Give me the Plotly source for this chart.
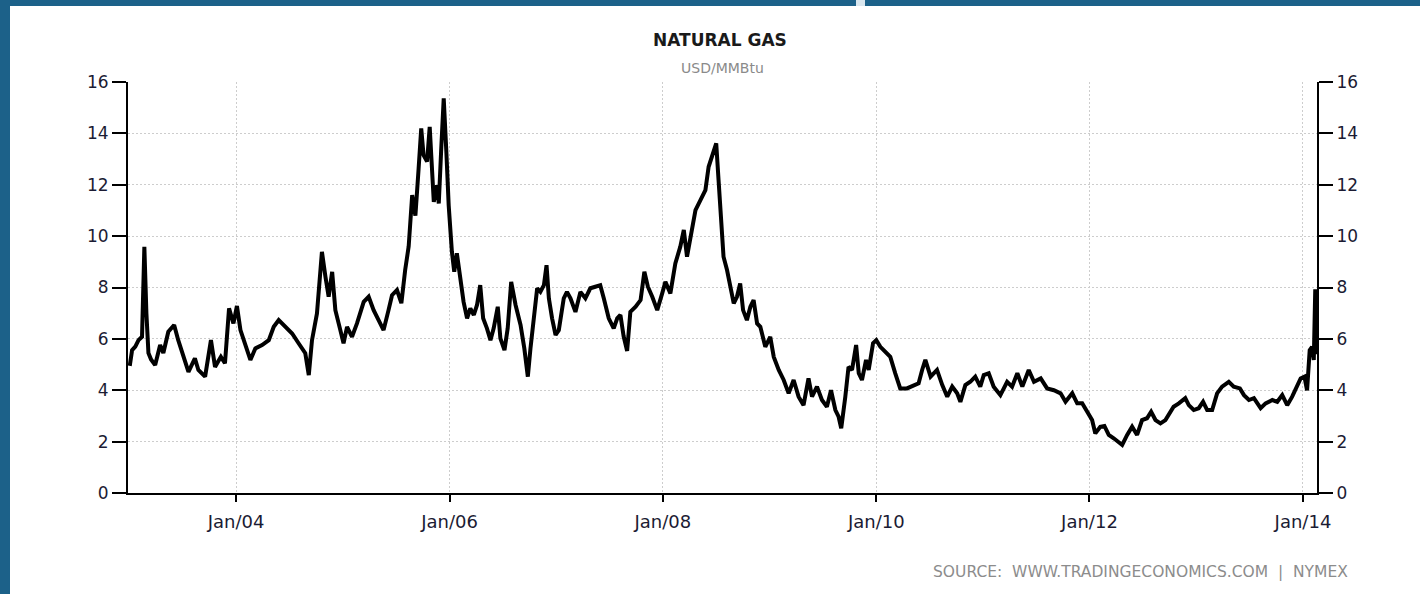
import plotly.graph_objects as go

# ---------------- data ----------------
dates = [
    "2003-01-02", "2003-01-10", "2003-01-21", "2003-02-01", "2003-02-13", "2003-02-21", "2003-02-28",
    "2003-03-07", "2003-03-16", "2003-03-30", "2003-04-16", "2003-04-27", "2003-05-14", "2003-06-03",
    "2003-06-17", "2003-07-04", "2003-07-22", "2003-08-13", "2003-08-25", "2003-09-17", "2003-10-07",
    "2003-10-21", "2003-11-10", "2003-11-24", "2003-12-08", "2003-12-23",
    "2004-01-04", "2004-01-16", "2004-02-02", "2004-02-19", "2004-03-07", "2004-03-30", "2004-04-22",
    "2004-05-09", "2004-05-26", "2004-06-18", "2004-07-11", "2004-08-02", "2004-08-25", "2004-09-06",
    "2004-09-17", "2004-10-04", "2004-10-21", "2004-11-02", "2004-11-13", "2004-11-25", "2004-12-06",
    "2004-12-23",
    "2005-01-03", "2005-01-15", "2005-02-01", "2005-02-18", "2005-03-13", "2005-03-30", "2005-04-16",
    "2005-05-03", "2005-05-20", "2005-06-06", "2005-06-18", "2005-07-05", "2005-07-20", "2005-08-02",
    "2005-08-14", "2005-08-26", "2005-09-06", "2005-09-17", "2005-09-26", "2005-10-04", "2005-10-16",
    "2005-10-25", "2005-11-02", "2005-11-08", "2005-11-19", "2005-11-25", "2005-12-03", "2005-12-12",
    "2005-12-21", "2005-12-29",
    "2006-01-09", "2006-01-17", "2006-01-26", "2006-02-07", "2006-02-18", "2006-03-02", "2006-03-13",
    "2006-03-25", "2006-04-05", "2006-04-16", "2006-04-26", "2006-05-09", "2006-05-21", "2006-06-01",
    "2006-06-15", "2006-06-24", "2006-07-08", "2006-07-19", "2006-07-31", "2006-08-15", "2006-09-01",
    "2006-09-14", "2006-09-26", "2006-10-05", "2006-10-16", "2006-10-28", "2006-11-08", "2006-11-20",
    "2006-11-29", "2006-12-07", "2006-12-18", "2006-12-30",
    "2007-01-10", "2007-01-27", "2007-02-07", "2007-02-19", "2007-03-08", "2007-03-25", "2007-04-11",
    "2007-04-28", "2007-05-15", "2007-06-01", "2007-06-13", "2007-06-30", "2007-07-17", "2007-07-29",
    "2007-08-09", "2007-08-20", "2007-09-01", "2007-09-12", "2007-09-30", "2007-10-17", "2007-10-30",
    "2007-11-11", "2007-11-26", "2007-12-13", "2007-12-30",
    "2008-01-10", "2008-01-27", "2008-02-13", "2008-03-01", "2008-03-13", "2008-03-24", "2008-04-04",
    "2008-04-22", "2008-05-09", "2008-05-26", "2008-06-06", "2008-06-21", "2008-07-02", "2008-07-10",
    "2008-07-18", "2008-07-27", "2008-08-08", "2008-08-19", "2008-08-31", "2008-09-11", "2008-09-22",
    "2008-10-02", "2008-10-15", "2008-10-27", "2008-11-07", "2008-11-19", "2008-11-30", "2008-12-17",
    "2009-01-03", "2009-01-15", "2009-02-01", "2009-02-18", "2009-03-07", "2009-03-24", "2009-04-10",
    "2009-04-27", "2009-05-14", "2009-05-26", "2009-06-12", "2009-06-29", "2009-07-16", "2009-07-30",
    "2009-08-14", "2009-08-25", "2009-09-03", "2009-09-17", "2009-09-28", "2009-10-10", "2009-10-24",
    "2009-11-02", "2009-11-13", "2009-11-27", "2009-12-06", "2009-12-21",
    "2010-01-01", "2010-01-15", "2010-02-01", "2010-02-18", "2010-03-07", "2010-03-24", "2010-04-16",
    "2010-05-09", "2010-05-26", "2010-06-07", "2010-06-18", "2010-07-06", "2010-07-28", "2010-08-15",
    "2010-09-01", "2010-09-18", "2010-10-05", "2010-10-16", "2010-11-02", "2010-11-19", "2010-12-06",
    "2010-12-23",
    "2011-01-04", "2011-01-21", "2011-02-07", "2011-03-02", "2011-03-25", "2011-04-11", "2011-04-29",
    "2011-05-16", "2011-06-07", "2011-06-25", "2011-07-18", "2011-08-09", "2011-09-01", "2011-09-24",
    "2011-10-11", "2011-11-03", "2011-11-20", "2011-12-07", "2011-12-24",
    "2012-01-10", "2012-01-21", "2012-02-07", "2012-02-21", "2012-03-07", "2012-03-24", "2012-04-10",
    "2012-04-22", "2012-05-09", "2012-05-26", "2012-06-12", "2012-06-29", "2012-07-16", "2012-07-30",
    "2012-08-14", "2012-08-31", "2012-09-17", "2012-10-02", "2012-10-15", "2012-11-02", "2012-11-24",
    "2012-12-06", "2012-12-23",
    "2013-01-09", "2013-01-24", "2013-02-07", "2013-02-24", "2013-03-13", "2013-03-30", "2013-04-22",
    "2013-05-09", "2013-05-30", "2013-06-13", "2013-06-30", "2013-07-17", "2013-08-09", "2013-08-26",
    "2013-09-18", "2013-10-05", "2013-10-22", "2013-11-08", "2013-11-25", "2013-12-12", "2013-12-24",
    "2014-01-06", "2014-01-15", "2014-01-24", "2014-02-01", "2014-02-07", "2014-02-12", "2014-02-17",
]

prices = [
    4.95, 5.56, 5.70, 5.95, 6.08, 9.58, 7.00,
    5.45, 5.20, 4.98, 5.76, 5.45, 6.28, 6.54,
    5.95, 5.37, 4.72, 5.24, 4.79, 4.53, 5.95,
    4.91, 5.30, 5.05, 7.19, 6.60,
    7.28, 6.34, 5.76, 5.18, 5.63, 5.76, 5.95,
    6.47, 6.73, 6.47, 6.21, 5.83, 5.44, 4.59,
    5.95, 6.99, 9.39, 8.42, 7.64, 8.61, 7.12,
    6.34,
    5.83, 6.47, 6.08, 6.60, 7.44, 7.64, 7.12,
    6.73, 6.34, 7.12, 7.70, 7.90, 7.39, 8.68,
    9.60, 11.60, 10.80, 12.63, 14.19, 13.15, 12.90,
    14.25, 12.63, 11.33, 11.98, 11.27, 13.28, 15.36,
    13.28, 11.20,
    9.39, 8.61, 9.33, 8.22, 7.44, 6.80, 7.19,
    6.93, 7.32, 8.09, 6.80, 6.41, 5.95, 6.41,
    7.25, 6.02, 5.56, 6.41, 8.22, 7.32, 6.54,
    5.63, 4.53, 5.63, 6.67, 7.97, 7.83, 8.09,
    8.87, 7.58, 6.80, 6.15,
    6.34, 7.58, 7.83, 7.58, 7.05, 7.83, 7.58,
    7.97, 8.03, 8.09, 7.58, 6.80, 6.41, 6.80,
    6.93, 6.10, 5.53, 7.05, 7.25, 7.51, 8.61,
    8.03, 7.64, 7.12, 7.77,
    8.22, 7.77, 8.94, 9.59, 10.24, 9.20, 9.85,
    11.01, 11.40, 11.79, 12.70, 13.22, 13.61, 12.18,
    10.50, 9.20, 8.68, 8.03, 7.38, 7.64, 8.16,
    7.12, 6.73, 7.25, 7.51, 6.60, 6.47, 5.69,
    6.08, 5.30, 4.79, 4.40, 3.88, 4.40, 3.75,
    3.42, 4.46, 3.75, 4.14, 3.62, 3.36, 4.00,
    3.23, 2.97, 2.52, 3.75, 4.91, 4.79, 5.76,
    4.66, 4.40, 5.18, 4.79, 5.83,
    5.95, 5.69, 5.50, 5.30, 4.66, 4.07, 4.07,
    4.20, 4.27, 4.79, 5.18, 4.53, 4.79, 4.20,
    3.75, 4.14, 3.88, 3.55, 4.20, 4.33, 4.53,
    4.14,
    4.59, 4.66, 4.14, 3.81, 4.33, 4.14, 4.66,
    4.14, 4.79, 4.33, 4.46, 4.07, 4.00, 3.88,
    3.55, 3.88, 3.49, 3.49, 3.16,
    2.84, 2.32, 2.58, 2.61, 2.26, 2.13, 2.00,
    1.87, 2.26, 2.58, 2.26, 2.84, 2.91, 3.16,
    2.84, 2.71, 2.84, 3.16, 3.36, 3.49, 3.69,
    3.42, 3.23,
    3.30, 3.55, 3.23, 3.23, 3.88, 4.14, 4.33,
    4.14, 4.07, 3.81, 3.62, 3.69, 3.30, 3.49,
    3.62, 3.55, 3.81, 3.42, 3.75, 4.20, 4.46,
    4.53, 4.00, 5.56, 5.69, 5.18, 7.93, 5.40,
]

y_ticks = [0, 2, 4, 6, 8, 10, 12, 14, 16]
x_ticks = ["2004-01-01", "2006-01-01", "2008-01-01", "2010-01-01", "2012-01-01", "2014-01-01"]
x_tick_labels = ["Jan/04", "Jan/06", "Jan/08", "Jan/10", "Jan/12", "Jan/14"]
x_range = ["2002-12-27", "2014-02-18"]

title_text = "NATURAL GAS"
unit_text = "USD/MMBtu"
source_text = "SOURCE:\u00a0\u00a0WWW.TRADINGECONOMICS.COM\u00a0\u00a0|\u00a0\u00a0NYMEX"

# ---------------- layout geometry ----------------
W, H = 1420, 594
ML, MR, MT, MB = 128, 103, 82, 101
PW, PH = W - ML - MR, H - MT - MB


def px(x):
    return (x - ML) / PW


def py(y):
    return (H - MB - y) / PH


FONT = "DejaVu Sans"
BLUE = "#1c6189"
GRID = "#cdcdcd"
TICKCOL = "#1b1b33"

fig = go.Figure()
fig.add_trace(go.Scatter(x=dates, y=prices, mode="lines",
                         line=dict(color="#000000", width=4), hoverinfo="x+y",
                         showlegend=False))
fig.add_trace(go.Scatter(x=dates, y=prices, mode="lines", yaxis="y2",
                         line=dict(color="rgba(0,0,0,0)", width=0), hoverinfo="skip",
                         showlegend=False))

axis_common = dict(
    range=[0, 16], tickmode="array", tickvals=y_ticks,
    showline=True, linecolor="#000000", linewidth=2,
    ticks="outside", ticklen=14, tickwidth=2, tickcolor="#000000",
    tickfont=dict(family=FONT, size=17, color=TICKCOL),
    zeroline=False, fixedrange=True,
)

fig.update_layout(
    width=W, height=H,
    margin=dict(l=ML, r=MR, t=MT, b=MB, pad=0),
    paper_bgcolor="#ffffff", plot_bgcolor="#ffffff",
    xaxis=dict(
        type="date", range=x_range, tickmode="array", tickvals=x_ticks, ticktext=x_tick_labels,
        showline=True, linecolor="#000000", linewidth=2,
        ticks="outside", ticklen=7, tickwidth=2, tickcolor="#000000",
        tickfont=dict(family=FONT, size=18, color=TICKCOL),
        ticklabelstandoff=4,
        showgrid=True, gridcolor=GRID, gridwidth=1, griddash="2px,2px",
        zeroline=False, fixedrange=True,
    ),
    yaxis=dict(side="left", showgrid=True, gridcolor=GRID, gridwidth=1, griddash="2px,2px",
               **axis_common),
    yaxis2=dict(side="right", overlaying="y", showgrid=False, **axis_common),
    shapes=[
        dict(type="rect", xref="paper", yref="paper", x0=px(0), x1=px(10), y0=py(H), y1=py(0),
             fillcolor=BLUE, line=dict(width=0), layer="above"),
        dict(type="rect", xref="paper", yref="paper", x0=px(0), x1=px(W), y0=py(6), y1=py(0),
             fillcolor=BLUE, line=dict(width=0), layer="above"),
        dict(type="rect", xref="paper", yref="paper", x0=px(856), x1=px(865), y0=py(6), y1=py(0),
             fillcolor="#d9e6ee", line=dict(width=0), layer="above"),
    ],
    annotations=[
        dict(text="<b>" + title_text + "</b>", xref="paper", yref="paper", x=px(720), y=py(40),
             xanchor="center", yanchor="middle", showarrow=False,
             font=dict(family=FONT, size=17, color="#1a1a1a")),
        dict(text=unit_text, xref="paper", yref="paper", x=px(722), y=py(68),
             xanchor="center", yanchor="middle", showarrow=False,
             font=dict(family=FONT, size=14, color="#8a8a8a")),
        dict(text=source_text, xref="paper", yref="paper", x=px(1350), y=py(572),
             xanchor="right", yanchor="middle", showarrow=False,
             font=dict(family=FONT, size=15.5, color="#8c8c8c")),
    ],
)

fig.write_html("out.html", config={"displayModeBar": False},
               post_script="document.body.style.margin='0';document.body.style.overflow='hidden';")
